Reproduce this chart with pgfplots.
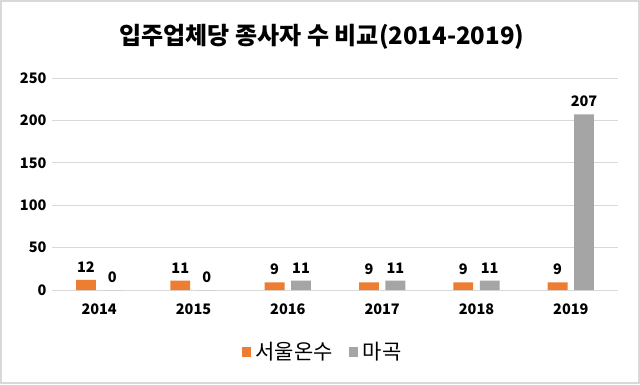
\documentclass[border=0pt]{standalone}
\usepackage{fontspec}
\setmainfont{Noto Sans CJK KR}
\usepackage{pgfplots}
\pgfplotsset{compat=1.18}
\definecolor{orng}{HTML}{ED7D31}
\definecolor{gry}{HTML}{A5A5A5}
\definecolor{gridc}{HTML}{D9D9D9}
\begin{document}
\begin{tikzpicture}[x=1pt,y=1pt]
\fill[white] (0,0) rectangle (640,384);
\draw[gray!30, line width=2pt] (1,1) rectangle (639,383);
\node[font=\fontsize{24}{27}\selectfont\bfseries] at (322,347) {입주업체당 종사자 수 비교(2014-2019)};
\begin{axis}[at={(52pt,94pt)}, anchor=south west, scale only axis,
  width=566pt, height=212pt,
  ymin=0, ymax=250, ytick={0,50,...,250},
  xmin=-0.5, xmax=5.5, xtick={0,...,5}, xticklabels={2014,2015,2016,2017,2018,2019},
  /pgf/number format/assume math mode=true,
  axis line style={draw=none}, major tick length=0pt,
  ymajorgrids, grid style={gridc, line width=1pt},
  ticklabel style={font=\fontsize{14.5}{16}\selectfont\bfseries},
  xticklabel style={yshift=-10pt},
  yticklabel style={xshift=-2pt},
  ybar, bar width=0.21,
  clip=false,
  nodes near coords,
  nodes near coords style={font=\fontsize{14.5}{16}\selectfont\bfseries, black, yshift=4pt},
  legend style={at={(0.478,-0.292)}, anchor=center, legend columns=2, draw=none, fill=none,
    font=\fontsize{21}{23}\selectfont,
    /tikz/every odd column/.append style={column sep=3pt},
    /tikz/every even column/.append style={column sep=14pt}},
  legend image code/.code={\fill[#1,draw=none] (0pt,-5pt) rectangle (9pt,5pt);},
]
\addplot[fill=orng, draw=none, bar shift=-0.14] coordinates {(0,12) (1,11) (2,9) (3,9) (4,9) (5,9)};
\addplot[fill=gry, draw=none, bar shift=0.14] coordinates {(0,0) (1,0) (2,11) (3,11) (4,11) (5,207)};
\legend{서울온수, 마곡}
\end{axis}
\end{tikzpicture}
\end{document}
